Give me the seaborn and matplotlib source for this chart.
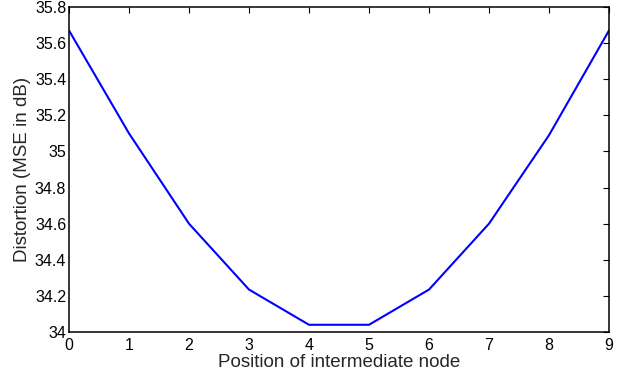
import matplotlib
matplotlib.use("Agg")
import matplotlib.pyplot as plt
import seaborn as sns
import pandas as pd

positions = [0, 1, 2, 3, 4, 5, 6, 7, 8, 9]
distortion = [35.67, 35.10, 34.60, 34.235, 34.04, 34.04, 34.235, 34.60, 35.09, 35.67]
xticks = [0, 1, 2, 3, 4, 5, 6, 7, 8, 9]
yticks = [34, 34.2, 34.4, 34.6, 34.8, 35, 35.2, 35.4, 35.6, 35.8]
yticklabels = ["34", "34.2", "34.4", "34.6", "34.8", "35", "35.2", "35.4", "35.6", "35.8"]

sns.set_style("white")
plt.rcParams['font.family'] = ['Liberation Sans', 'DejaVu Sans']

df = pd.DataFrame({"pos": positions, "dist": distortion})

fig = plt.figure(figsize=(6.26, 3.79), dpi=100)
ax = fig.add_axes([69/626, 1-332/379, (609-69)/626, (332-7)/379])
sns.lineplot(data=df, x="pos", y="dist", ax=ax, color=(0, 0, 1), linewidth=1.5)

ax.set_xlim(0, 9)
ax.set_ylim(34, 35.8)
ax.set_xticks(xticks)
ax.set_xticklabels([str(t) for t in xticks])
ax.set_yticks(yticks)
ax.set_yticklabels(yticklabels)
ax.tick_params(direction="in", top=True, right=True, length=4, width=0.8,
               labelsize=11.5, colors="black", pad=2)
ax.tick_params(axis="x", pad=4)
for s in ax.spines.values():
    s.set_visible(True)
    s.set_color("black")
    s.set_linewidth(1.1)
ax.set_xlabel("Position of intermediate node", fontsize=13.5, labelpad=1)
ax.set_ylabel("Distortion (MSE in dB)", fontsize=13.5, labelpad=3)

fig.savefig("out.png", dpi=100)
